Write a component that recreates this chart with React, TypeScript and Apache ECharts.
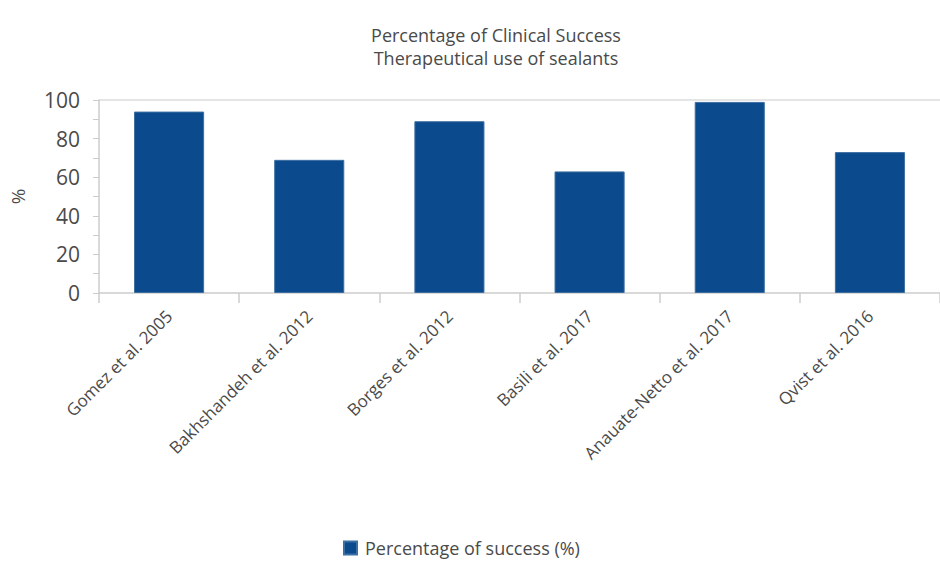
import React, { useEffect, useRef } from "react";
import * as echarts from "echarts";

const categories = [
  "Gomez et al. 2005",
  "Bakhshandeh et al. 2012",
  "Borges et al. 2012",
  "Basili et al. 2017",
  "Anauate-Netto et al. 2017",
  "Qvist et al. 2016",
];
const successValues = [94, 69, 89, 63, 99, 73];
const yTicks = { min: 0, max: 100, interval: 20 };
const titleLines = ["Percentage of Clinical Success", "Therapeutical use of sealants"];
const seriesName = "Percentage of success (%)";

export default function App() {
  const ref = useRef<HTMLDivElement>(null);
  useEffect(() => {
    document.body.style.margin = "0";
    const chart = echarts.init(ref.current!, null, { renderer: "svg" });
    const font = "'Open Sans', 'Noto Sans', sans-serif";
    chart.setOption({
      animation: false,
      backgroundColor: "#ffffff",
      textStyle: { fontFamily: font },
      title: {
        text: titleLines[0],
        subtext: titleLines[1],
        left: 491,
        top: 20,
        textAlign: "center",
        itemGap: 3,
        textStyle: { fontSize: 18, fontWeight: "normal", color: "#4a4a4a", lineHeight: 20, fontFamily: font },
        subtextStyle: { fontSize: 18, color: "#4a4a4a", lineHeight: 20, fontFamily: font },
      },
      legend: {
        bottom: 4,
        left: 338,
        icon: "rect",
        itemWidth: 13,
        itemHeight: 13,
        itemGap: 8,
        textStyle: { fontSize: 18, color: "#4a4a4a", fontFamily: font, padding: [0, 0, 0, 3] },
        data: [seriesName],
      },
      grid: { left: 92, right: -8, top: 100, bottom: 273, containLabel: false },
      xAxis: {
        type: "category",
        data: categories,
        axisLine: { show: true, lineStyle: { color: "#cccccc", width: 1.5 } },
        axisTick: { show: true, alignWithLabel: false, length: 10, lineStyle: { color: "#cccccc", width: 1.5 } },
        axisLabel: { rotate: 45, fontSize: 17, color: "#4a4a4a", margin: 20, interval: 0, fontFamily: font },
      },
      yAxis: {
        type: "value",
        min: yTicks.min,
        max: yTicks.max,
        interval: yTicks.interval,
        name: "%",
        nameLocation: "middle",
        nameRotate: 90,
        nameGap: 72,
        nameTextStyle: { fontSize: 19, color: "#4a4a4a", fontFamily: font },
        axisLine: { show: true, lineStyle: { color: "#cccccc", width: 1.5 } },
        axisTick: { show: true, length: 6, lineStyle: { color: "#cccccc" } },
        minorTick: { show: true, splitNumber: 2, length: 6, lineStyle: { color: "#cccccc" } },
        axisLabel: { fontSize: 21, color: "#4a4a4a", margin: 19, fontFamily: font },
        splitLine: {
          show: true,
          lineStyle: { color: ["transparent", "transparent", "transparent", "transparent", "transparent", "#dddddd"], width: 1.5 },
        },
      },
      series: [
        {
          name: seriesName,
          type: "bar",
          data: successValues,
          barWidth: "50%",
          itemStyle: { color: "#0b4a8c", borderColor: "#3d6fa3", borderWidth: 1 },
        },
      ],
    });
    return () => chart.dispose();
  }, []);
  return <div ref={ref} style={{ width: 940, height: 566 }} />;
}
